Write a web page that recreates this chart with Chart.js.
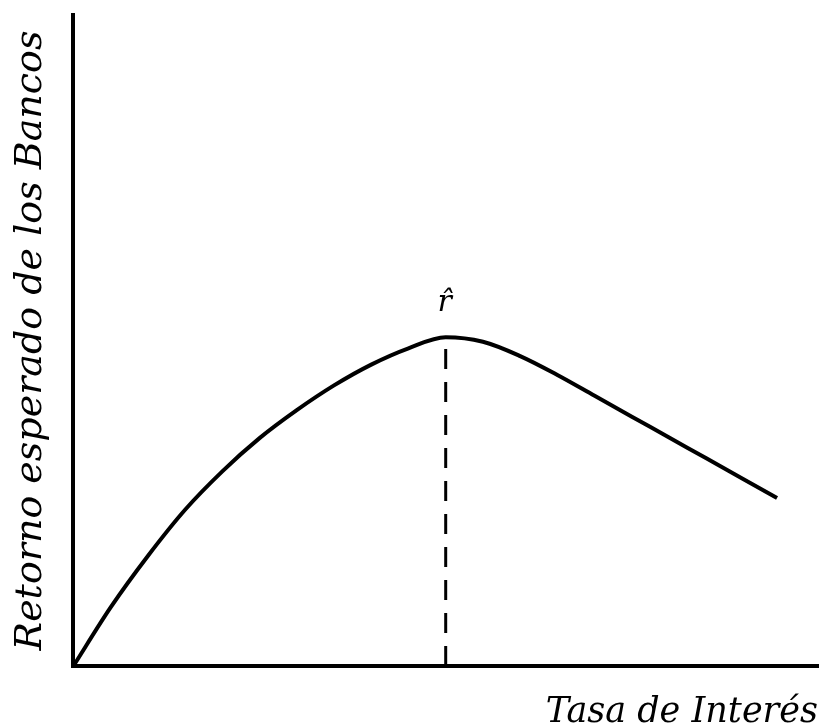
<!DOCTYPE html>
<html>
<head>
<meta charset="utf-8">
<script src="https://cdn.jsdelivr.net/npm/chart.js@4/dist/chart.umd.min.js"></script>
<style>
    html, body { margin: 0; padding: 0; background: #fff; }
    #wrap { width: 828px; height: 727px; }
</style>
</head>
<body>
<div id="wrap"><canvas id="retorno"></canvas></div>
<script>
// Tasa de interés (eje x) y retorno esperado (eje y)
const tasa = [0, 5, 10, 15, 20, 25, 30, 35, 40, 45, 50, 55, 60, 65, 70, 75, 80, 85, 90, 94.5];
const retorno = [0, 9, 16.9, 24, 29.9, 35, 39.3, 43.1, 46.3, 48.8, 50.5, 49.8, 47.6, 44.7, 41.5, 38.3, 35.1, 31.9, 28.7, 25.8];
// tasa óptima r̂
const tasaOptima = [50, 50];
const retornoOptimo = [0, 50.5];
const etiquetaOptima = "r\u0302";

const fuente = "'DejaVu Serif', serif";

const curva = tasa.map((t, i) => ({ x: t, y: retorno[i] }));
const vertical = tasaOptima.map((t, i) => ({ x: t, y: retornoOptimo[i] }));

const etiquetaPlugin = {
    id: "etiquetaPlugin",
    afterDatasetsDraw(chart) {
        const ctx = chart.ctx;
        const x = chart.scales.x.getPixelForValue(tasaOptima[1]);
        const y = chart.scales.y.getPixelForValue(retornoOptimo[1]);
        ctx.save();
        ctx.fillStyle = "#000";
        ctx.font = "italic 30px " + fuente;
        ctx.textAlign = "center";
        ctx.textBaseline = "alphabetic";
        ctx.fillText(etiquetaOptima, x - 1, y - 26);
        ctx.restore();
    },
};

new Chart(document.getElementById("retorno"), {
    type: "line",
    data: {
        datasets: [
            {
                data: curva,
                borderColor: "#000",
                borderWidth: 4,
                pointRadius: 0,
                cubicInterpolationMode: "monotone",
                fill: false,
                clip: false,
            },
            {
                data: vertical,
                borderColor: "#000",
                borderWidth: 3,
                borderDash: [20, 13],
                pointRadius: 0,
                fill: false,
            },
        ],
    },
    options: {
        responsive: true,
        maintainAspectRatio: false,
        animation: false,
        layout: { padding: { top: 15, right: 10, left: 16, bottom: 0 } },
        plugins: {
            legend: { display: false },
            tooltip: { enabled: false },
        },
        scales: {
            x: {
                type: "linear",
                min: 0,
                max: 100,
                grid: { display: false },
                ticks: { display: false },
                border: { display: true, color: "#000", width: 4 },
                title: {
                    display: true,
                    text: "Tasa de Interés",
                    align: "end",
                    color: "#000",
                    font: { family: fuente, size: 35, style: "italic", lineHeight: 0.8 },
                    padding: { top: 25, bottom: 0 },
                },
            },
            y: {
                type: "linear",
                min: 0,
                max: 100,
                grid: { display: false },
                ticks: { display: false },
                border: { display: true, color: "#000", width: 4 },
                title: {
                    display: true,
                    text: "Retorno esperado de los Bancos",
                    color: "#000",
                    font: { family: fuente, size: 38, style: "italic", lineHeight: 0.8 },
                    padding: { top: 0, bottom: 19 },
                },
            },
        },
    },
    plugins: [etiquetaPlugin],
});
</script>
</body>
</html>
